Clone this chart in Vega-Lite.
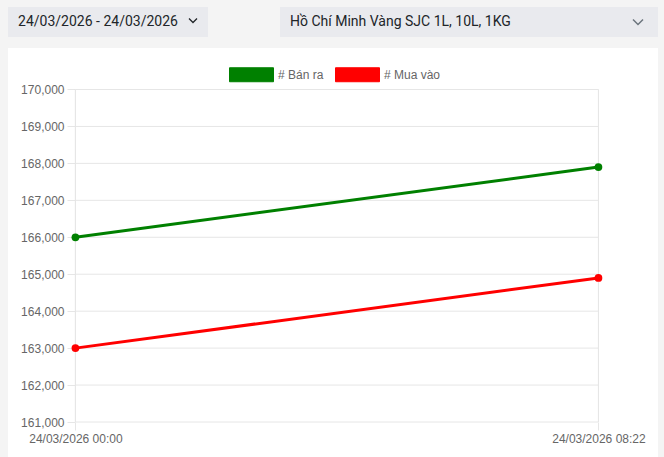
{
  "$schema": "https://vega.github.io/schema/vega-lite/v6.json",
  "background": "#f4f4f4",
  "padding": {"left": 8, "top": 7, "right": 6, "bottom": 0},
  "config": {"view": {"stroke": null}, "font": "Liberation Sans"},
  "spacing": 11,
  "vconcat": [
    {
      "spacing": 72,
      "hconcat": [
        {
          "width": 200,
          "height": 30,
          "view": {"fill": "#e9eaee", "stroke": null},
          "data": {"values": [{"label": "24/03/2026 - 24/03/2026"}]},
          "layer": [
            {
              "mark": {"type": "text", "font": "Roboto", "fontSize": 14, "color": "#212529", "dx": -10, "baseline": "middle"},
              "encoding": {"text": {"field": "label"}}
            },
            {
              "mark": {"type": "point", "shape": "M-1,-0.5L0,0.5L1,-0.5", "filled": false, "size": 64, "strokeWidth": 1.3, "color": "#212529", "opacity": 1, "xOffset": 85, "yOffset": -1.5},
              "encoding": {}
            }
          ]
        },
        {
          "width": 378,
          "height": 30,
          "view": {"fill": "#e9eaee", "stroke": null},
          "data": {"values": [{"label": "Hồ Chí Minh Vàng SJC 1L, 10L, 1KG"}]},
          "layer": [
            {
              "mark": {"type": "text", "font": "Roboto", "fontSize": 14, "color": "#212529", "align": "left", "dx": -179, "baseline": "middle"},
              "encoding": {"text": {"field": "label"}}
            },
            {
              "mark": {"type": "point", "shape": "M-1,-0.5L0,0.5L1,-0.5", "filled": false, "size": 100, "strokeWidth": 1.5, "color": "#6c757d", "opacity": 1, "xOffset": 169},
              "encoding": {}
            }
          ]
        }
      ]
    },
    {
      "width": 650,
      "height": 409,
      "view": {"fill": "white", "stroke": null},
      "resolve": {"axis": {"x": "independent", "y": "independent"}},
      "data": {"values": [
        {"time": "24/03/2026 00:00", "series": "# Bán ra", "value": 166000},
        {"time": "24/03/2026 08:22", "series": "# Bán ra", "value": 167900},
        {"time": "24/03/2026 00:00", "series": "# Mua vào", "value": 163000},
        {"time": "24/03/2026 08:22", "series": "# Mua vào", "value": 164900}
      ]},
      "layer": [
        {
          "data": {"values": [
            {"v": 161000}, {"v": 162000}, {"v": 163000}, {"v": 164000}, {"v": 165000},
            {"v": 166000}, {"v": 167000}, {"v": 168000}, {"v": 169000}, {"v": 170000}
          ]},
          "mark": {"type": "rule", "color": "#e6e6e6", "strokeWidth": 1},
          "encoding": {
            "y": {
              "field": "v", "type": "quantitative",
              "scale": {"domain": [160053, 171123], "nice": false, "zero": false},
              "axis": {
                "orient": "left", "offset": -67, "values": [161000, 162000, 163000, 164000, 165000, 166000, 167000, 168000, 169000, 170000],
                "format": ",.0f", "grid": false, "domain": false, "tickSize": 8, "tickColor": "#e6e6e6",
                "labelColor": "#666666", "labelFontSize": 12, "labelFont": "Liberation Sans", "labelPadding": 3, "title": null
              }
            },
            "x": {"datum": "24/03/2026 00:00", "type": "nominal", "axis": null},
            "x2": {"datum": "24/03/2026 08:22"}
          }
        },
        {
          "mark": {"type": "rule", "color": "#e6e6e6", "strokeWidth": 1},
          "encoding": {
            "x": {
              "field": "time", "type": "nominal",
              "scale": {"type": "point", "padding": 0.1214, "align": 0.531},
              "axis": {
                "orient": "bottom", "offset": -35, "tickSize": 8, "tickColor": "#e6e6e6", "domain": false, "grid": false,
                "labelAngle": 0, "labelAlign": "center", "labelColor": "#666666", "labelFontSize": 12, "labelFont": "Liberation Sans", "labelPadding": 3, "title": null
              }
            },
            "y": {"datum": 161000, "type": "quantitative", "axis": null},
            "y2": {"datum": 170000}
          }
        },
        {
          "mark": {"type": "line", "strokeWidth": 3, "point": {"filled": true, "size": 60, "opacity": 1}},
          "encoding": {
            "x": {"field": "time", "type": "nominal", "axis": null},
            "y": {"field": "value", "type": "quantitative", "axis": null},
            "color": {
              "field": "series", "type": "nominal",
              "scale": {"domain": ["# Bán ra", "# Mua vào"], "range": ["#008000", "#ff0000"]},
              "legend": {
                "orient": "none", "legendX": 221, "legendY": 45, "direction": "horizontal", "title": null,
                "symbolType": "M-1,-0.318H1V0.318H-1Z", "symbolSize": 1936, "symbolStrokeWidth": 1, "symbolOpacity": 1,
                "labelFontSize": 12, "labelColor": "#666666", "labelFont": "Liberation Sans", "labelOffset": 4, "columnPadding": 9,
                "encode": {"symbols": {"update": {"fill": {"scale": "color", "field": "value"}, "stroke": {"scale": "color", "field": "value"}, "opacity": {"value": 1}}}}
              }
            }
          }
        }
      ]
    }
  ]
}
